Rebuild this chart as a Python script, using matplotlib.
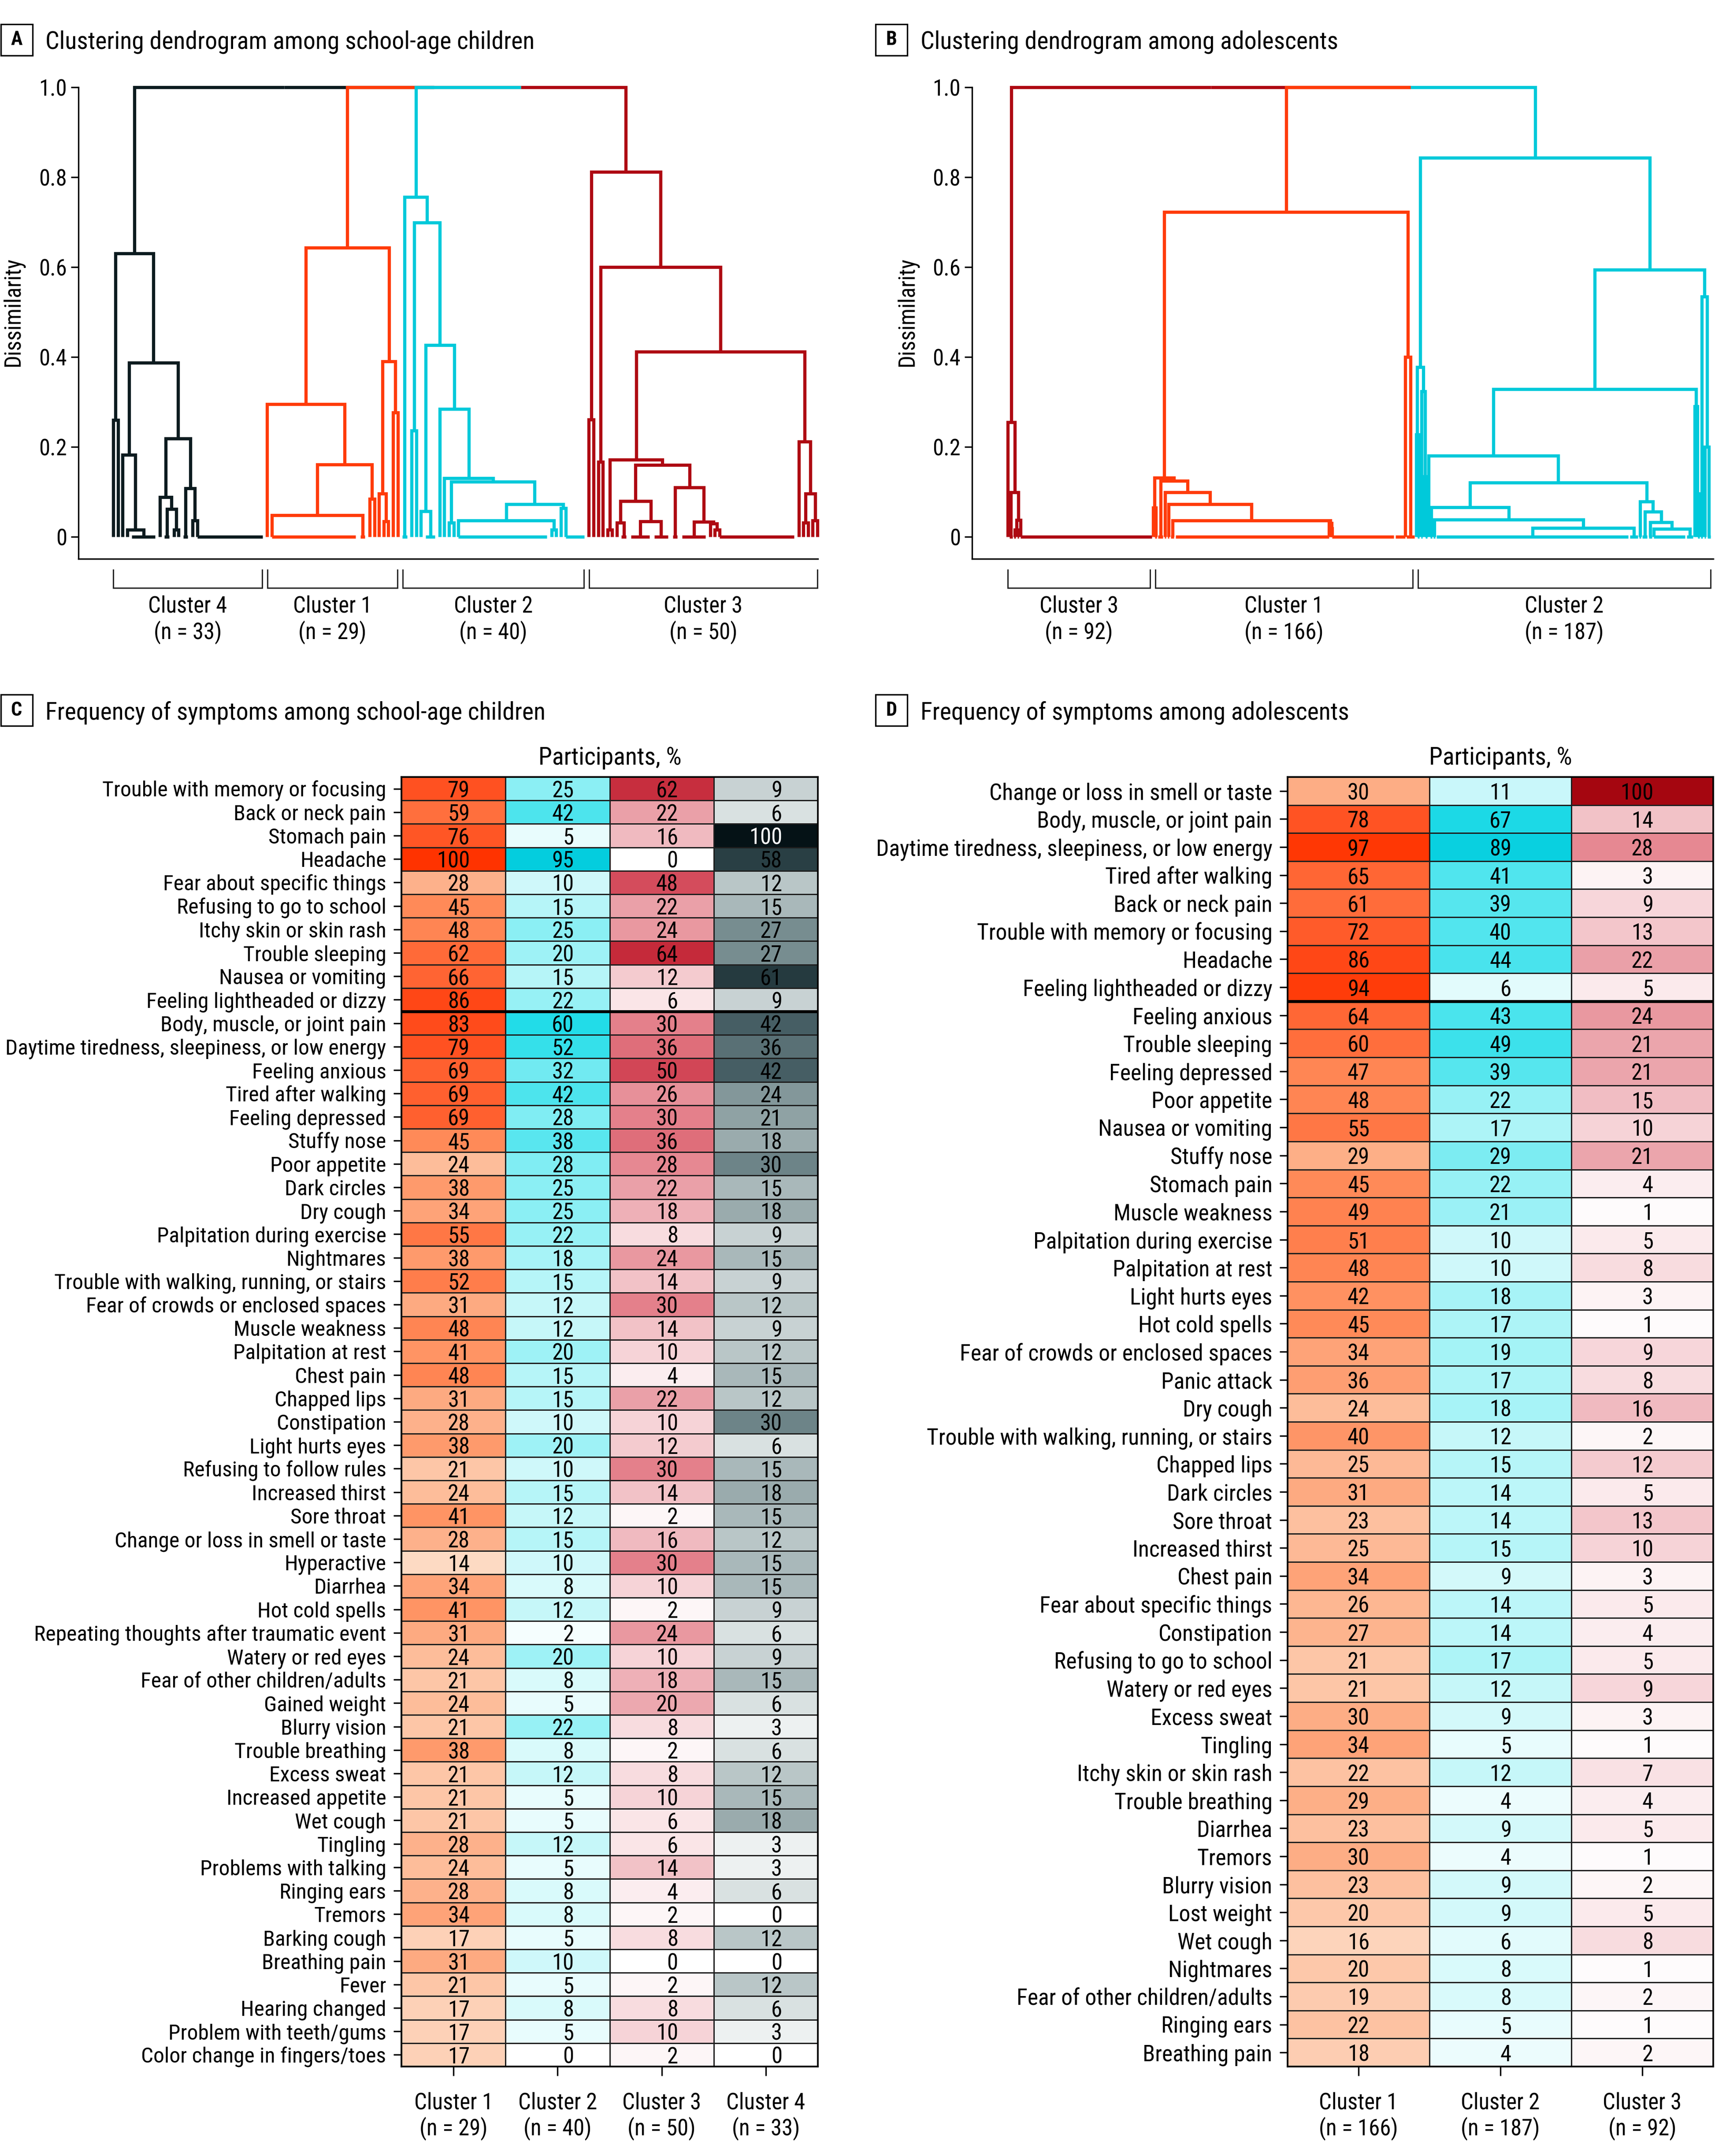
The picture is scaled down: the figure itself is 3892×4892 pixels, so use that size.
import numpy as np
import matplotlib
matplotlib.use("Agg")
import matplotlib.pyplot as plt
from matplotlib import font_manager as fm
from matplotlib.colors import LinearSegmentedColormap, Normalize, to_rgb
from matplotlib.collections import LineCollection
from matplotlib.patches import Rectangle
import matplotlib.transforms as mtransforms

# ----------------------------------------------------------------- data
c_symptoms = [
    "Trouble with memory or focusing", "Back or neck pain", "Stomach pain", "Headache",
    "Fear about specific things", "Refusing to go to school", "Itchy skin or skin rash",
    "Trouble sleeping", "Nausea or vomiting", "Feeling lightheaded or dizzy",
    "Body, muscle, or joint pain", "Daytime tiredness, sleepiness, or low energy",
    "Feeling anxious", "Tired after walking", "Feeling depressed", "Stuffy nose",
    "Poor appetite", "Dark circles", "Dry cough", "Palpitation during exercise",
    "Nightmares", "Trouble with walking, running, or stairs",
    "Fear of crowds or enclosed spaces", "Muscle weakness", "Palpitation at rest",
    "Chest pain", "Chapped lips", "Constipation", "Light hurts eyes",
    "Refusing to follow rules", "Increased thirst", "Sore throat",
    "Change or loss in smell or taste", "Hyperactive", "Diarrhea", "Hot cold spells",
    "Repeating thoughts after traumatic event", "Watery or red eyes",
    "Fear of other children/adults", "Gained weight", "Blurry vision",
    "Trouble breathing", "Excess sweat", "Increased appetite", "Wet cough", "Tingling",
    "Problems with talking", "Ringing ears", "Tremors", "Barking cough",
    "Breathing pain", "Fever", "Hearing changed", "Problem with teeth/gums",
    "Color change in fingers/toes"]
c_cluster1 = [79, 59, 76, 100, 28, 45, 48, 62, 66, 86, 83, 79, 69, 69, 69, 45, 24, 38, 34, 55,
              38, 52, 31, 48, 41, 48, 31, 28, 38, 21, 24, 41, 28, 14, 34, 41, 31, 24, 21, 24,
              21, 38, 21, 21, 21, 28, 24, 28, 34, 17, 31, 21, 17, 17, 17]
c_cluster2 = [25, 42, 5, 95, 10, 15, 25, 20, 15, 22, 60, 52, 32, 42, 28, 38, 28, 25, 25, 22,
              18, 15, 12, 12, 20, 15, 15, 10, 20, 10, 15, 12, 15, 10, 8, 12, 2, 20, 8, 5,
              22, 8, 12, 5, 5, 12, 5, 8, 8, 5, 10, 5, 8, 5, 0]
c_cluster3 = [62, 22, 16, 0, 48, 22, 24, 64, 12, 6, 30, 36, 50, 26, 30, 36, 28, 22, 18, 8,
              24, 14, 30, 14, 10, 4, 22, 10, 12, 30, 14, 2, 16, 30, 10, 2, 24, 10, 18, 20,
              8, 2, 8, 10, 6, 6, 14, 4, 2, 8, 0, 2, 8, 10, 2]
c_cluster4 = [9, 6, 100, 58, 12, 15, 27, 27, 61, 9, 42, 36, 42, 24, 21, 18, 30, 15, 18, 9,
              15, 9, 12, 9, 12, 15, 12, 30, 6, 15, 18, 15, 12, 15, 15, 9, 6, 9, 15, 6,
              3, 6, 12, 15, 18, 3, 3, 6, 0, 12, 0, 12, 6, 3, 0]
c_col_labels = ["Cluster 1", "Cluster 2", "Cluster 3", "Cluster 4"]
c_col_sizes = [29, 40, 50, 33]
c_split_after = 10

d_symptoms = [
    "Change or loss in smell or taste", "Body, muscle, or joint pain",
    "Daytime tiredness, sleepiness, or low energy", "Tired after walking",
    "Back or neck pain", "Trouble with memory or focusing", "Headache",
    "Feeling lightheaded or dizzy", "Feeling anxious", "Trouble sleeping",
    "Feeling depressed", "Poor appetite", "Nausea or vomiting", "Stuffy nose",
    "Stomach pain", "Muscle weakness", "Palpitation during exercise",
    "Palpitation at rest", "Light hurts eyes", "Hot cold spells",
    "Fear of crowds or enclosed spaces", "Panic attack", "Dry cough",
    "Trouble with walking, running, or stairs", "Chapped lips", "Dark circles",
    "Sore throat", "Increased thirst", "Chest pain", "Fear about specific things",
    "Constipation", "Refusing to go to school", "Watery or red eyes", "Excess sweat",
    "Tingling", "Itchy skin or skin rash", "Trouble breathing", "Diarrhea", "Tremors",
    "Blurry vision", "Lost weight", "Wet cough", "Nightmares",
    "Fear of other children/adults", "Ringing ears", "Breathing pain"]
d_cluster1 = [30, 78, 97, 65, 61, 72, 86, 94, 64, 60, 47, 48, 55, 29, 45, 49, 51, 48, 42, 45,
              34, 36, 24, 40, 25, 31, 23, 25, 34, 26, 27, 21, 21, 30, 34, 22, 29, 23, 30, 23,
              20, 16, 20, 19, 22, 18]
d_cluster2 = [11, 67, 89, 41, 39, 40, 44, 6, 43, 49, 39, 22, 17, 29, 22, 21, 10, 10, 18, 17,
              19, 17, 18, 12, 15, 14, 14, 15, 9, 14, 14, 17, 12, 9, 5, 12, 4, 9, 4, 9,
              9, 6, 8, 8, 5, 4]
d_cluster3 = [100, 14, 28, 3, 9, 13, 22, 5, 24, 21, 21, 15, 10, 21, 4, 1, 5, 8, 3, 1,
              9, 8, 16, 2, 12, 5, 13, 10, 3, 5, 4, 5, 9, 3, 1, 7, 4, 5, 1, 2,
              5, 8, 1, 2, 1, 2]
d_col_labels = ["Cluster 1", "Cluster 2", "Cluster 3"]
d_col_sizes = [166, 187, 92]
d_split_after = 8

# Dendrogram trees: (height, left, right); an int n = n participants joined at 0
# (joined at their centre); ("L", n) / ("R", n) = n participants joined at 0 onto
# the left-most / right-most participant.
a_tree_cluster4 = (0.63, (0.26, 1, 1),
                   (0.387, (0.182, 1, (0.016, 1, 6)),
                    (0.219, (0.088, 1, (0.062, 2, (0.016, 1, 1))),
                     (0.108, 2, (0.036, 1, ("L", 15))))))
a_tree_cluster1 = (0.643, (0.295, 1, (0.161, (0.048, ("L", 19), 2), (0.084, 1, 1))),
                   (0.39, (0.096, 1, (0.034, 1, 1)), (0.276, 1, 1)))
a_tree_cluster2 = (0.756, 2, (0.699, (0.236, 1, 1),
                   (0.426, (0.057, 1, 3),
                    (0.284, 1, (0.13, 1, (0.123, (0.031, 1, 1),
                     (0.073, (0.036, ("L", 20), (0.016, 1, 1)), (0.064, 1, ("L", 5)))))))))
a_tree_cluster3 = (0.812, (0.261, 1, 1),
                   (0.6, (0.167, 1, 1),
                    (0.412, (0.172, (0.016, 1, 1),
                             (0.16, (0.079, (0.031, 1, 2), (0.034, 5, 4)),
                              (0.11, 2, (0.033, 6, (0.029, 1, (0.016, 1, ("L", 17))))))),
                     (0.212, 1, (0.096, (0.031, 1, 1), (0.036, 1, 1))))))
a_top = (1.0, 0, (1.0, 1, (1.0, 2, 3)))
a_cluster_names = ["Cluster 4", "Cluster 1", "Cluster 2", "Cluster 3"]
a_cluster_sizes = [33, 29, 40, 50]

b_tree_cluster3 = (0.255, 1, (0.099, 3, (0.037, (0.016, 2, 2), ("L", 84))))
b_tree_cluster1 = (0.723, (0.131, (0.065, 1, 2),
                           (0.125, 4, (0.099, 2, (0.073, 2, (0.036, 3,
                            (0.03, ("R", 98), (0.019, 1, ("L", 40)))))))),
                   (0.4, ("R", 7), 6))
b_tree_cluster2 = (0.843, (0.377, (0.227, 1, 2), (0.324, 2, (0.134, 1, 2))),
                   (0.594, (0.328, (0.18, 1, (0.121,
                                   (0.066, 2, (0.038, 2, (0.02, 122, 6))),
                                   (0.078, 2, (0.056, 4, (0.032, 3, (0.018, ("L", 21), 5)))))),
                            (0.29, 1, (0.096, 1, 2))),
                    (0.534, 2, (0.2, 2, 3))))
b_top = (1.0, 0, (1.0, 1, 2))
b_cluster_names = ["Cluster 3", "Cluster 1", "Cluster 2"]
b_cluster_sizes = [92, 166, 187]

# ----------------------------------------------------------------- style
ORANGE = "#ff3b0a"
CYAN = "#00c9da"
RED = "#ae0912"
SLATE = "#0c1b1f"

cm_orange = LinearSegmentedColormap.from_list("o", [(0, "#ffffff"), (0.14, "#fdd9c2"), (0.28, "#fdb18a"),
                                                   (0.45, "#ff8a58"), (0.62, "#ff6a38"), (0.8, "#ff5020"),
                                                   (1.0, "#ff3300")])
cm_cyan = LinearSegmentedColormap.from_list("c", [(0, "#ffffff"), (0.1, "#cef8fa"), (0.2, "#9ef2f6"),
                                                 (0.4, "#52e5ee"), (0.6, "#22dce8"), (1.0, "#00cbdd")])
cm_red = LinearSegmentedColormap.from_list("r", [(0, "#ffffff"), (0.1, "#f6d2d6"), (0.2, "#eca8af"),
                                                (0.3, "#e47f8a"), (0.5, "#d24656"), (0.64, "#c52a3a"),
                                                (1.0, "#a50610")])
cm_slate = LinearSegmentedColormap.from_list("s", [(0, "#ffffff"), (0.06, "#d8e0e0"), (0.12, "#b8c5c6"),
                                                  (0.18, "#9aabad"), (0.24, "#83979a"), (0.3, "#6c8387"),
                                                  (0.42, "#465e64"), (0.6, "#263b40"), (1.0, "#051216")])

# font choice: a narrow sans face like the original
avail = {f.name for f in fm.fontManager.ttflist}
FONT, STRETCH = None, "normal"
for cand in ["Liberation Sans Narrow", "Roboto Condensed", "Open Sans Condensed",
             "Noto Sans Condensed", "DejaVu Sans Condensed"]:
    if cand in avail:
        FONT = cand
        break
if FONT is None:
    if any(f.name == "DejaVu Sans" and "condensed" in str(f.stretch) for f in fm.fontManager.ttflist):
        FONT, STRETCH = "DejaVu Sans", "condensed"
    else:
        FONT = "Liberation Sans"
plt.rcParams["font.family"] = [FONT, "DejaVu Sans"]
plt.rcParams["font.stretch"] = STRETCH

W, H = 3892, 4892
fig = plt.figure(figsize=(W / 300, H / 300), dpi=300)
fig.patch.set_facecolor("white")

# scale fonts so that the longest label has the width it has in the original
renderer = fig.canvas.get_renderer()
probe = fig.text(0, 0, "Daytime tiredness, sleepiness, or low energy", fontsize=13.2)
pw = probe.get_window_extent(renderer=renderer).width
probe.remove()
S = float(np.clip(885.0 / pw, 0.6, 1.15))
FS = 13.2 * S
FS_T = 14.5 * S
FS_LAB_C = 13.2 * float(np.clip(862.0 / pw, 0.6, 1.15))
FS_LAB_D = 13.2 * float(np.clip(898.0 / pw, 0.6, 1.15))
LW = 1.75


def rect(left, top, right, bottom):
    return [left / W, 1 - bottom / H, (right - left) / W, (bottom - top) / H]


def panel_letter(letter, x0, y0, title, tx, ty):
    fig.patches.append(Rectangle((x0 / W, 1 - (y0 + 71) / H), 72 / W, 71 / H, transform=fig.transFigure,
                                 fill=False, lw=0.8, edgecolor="black"))
    fig.text((x0 + 36) / W, 1 - (y0 + 35.5) / H, letter, ha="center", va="center", fontsize=11.5 * S,
             fontweight="bold")
    fig.text(tx / W, 1 - ty / H, title, ha="left", va="baseline", fontsize=FS_T)


# ----------------------------------------------------------------- dendrograms
def walk(node, start, segs):
    if isinstance(node, int):
        n = node
        if n > 1:
            segs.append([(start, 0.0), (start + n - 1, 0.0)])
        return start + (n - 1) / 2.0, 0.0, n
    if node[0] in ("L", "R"):
        n = node[1]
        if n > 1:
            segs.append([(start, 0.0), (start + n - 1, 0.0)])
        return (start if node[0] == "L" else start + n - 1), 0.0, n
    h, left, right = node
    xl, hl, nl = walk(left, start, segs)
    xr, hr, nr = walk(right, start + nl, segs)
    segs.append([(xl, hl), (xl, h), (xr, h), (xr, hr)])
    return (xl + xr) / 2.0, h, nl + nr


def walk_top(node, start, trees, colors, top_segs, out):
    if isinstance(node, int):
        segs = []
        x, h, n = walk(trees[node], start, segs)
        out.append((node, start, n, segs))
        return x, h, n, colors[node]
    h, left, right = node
    xl, hl, nl, cl = walk_top(left, start, trees, colors, top_segs, out)
    xr, hr, nr, cr = walk_top(right, start + nl, trees, colors, top_segs, out)
    col_l = cl or cr or "black"
    col_r = cr or cl or "black"
    xm = (xl + xr) / 2.0
    top_segs.append(([(xl, hl), (xl, h), (xm, h)], col_l))
    top_segs.append(([(xm, h), (xr, h), (xr, hr)], col_r))
    return xm, h, nl + nr, None


def dendrogram(box, trees, top, colors, names, sizes, xlim, ylab_x):
    ax = fig.add_axes(rect(*box))
    top_segs, out = [], []
    walk_top(top, 0, trees, colors, top_segs, out)
    for seg, col in reversed(top_segs):
        lc = LineCollection([seg], colors=col, linewidths=LW, capstyle="butt", joinstyle="miter",
                            zorder=2)
        lc.set_clip_on(False)
        ax.add_collection(lc)
    for k, start, n, segs in out:
        lc = LineCollection(segs, colors=colors[k], linewidths=LW, capstyle="butt", joinstyle="miter",
                            zorder=3)
        lc.set_clip_on(False)
        ax.add_collection(lc)
    ax.set_xlim(*xlim)
    ax.set_ylim(-0.049, 1.0)
    for s in ["top", "right"]:
        ax.spines[s].set_visible(False)
    for s in ["left", "bottom"]:
        ax.spines[s].set_linewidth(0.8)
    ax.set_xticks([])
    ax.set_yticks([0, 0.2, 0.4, 0.6, 0.8, 1.0])
    ax.set_yticklabels(["0", "0.2", "0.4", "0.6", "0.8", "1.0"], fontsize=FS)
    ax.tick_params(axis="y", length=4, width=0.8, pad=2.3)
    trans = ax.get_xaxis_transform()
    # keep a visible gap (about 12 px) between neighbouring brackets
    px_per_unit = (box[2] - box[0]) / (xlim[1] - xlim[0])
    inset = max(0.0, (12.0 / px_per_unit - 1.0) / 2.0)
    order = sorted(out, key=lambda t: t[1])
    last = len(order) - 1
    for idx, (k, start, n, segs) in enumerate(order):
        a, b = start, start + n - 1
        if idx > 0:
            a += inset
        if idx < last:
            b -= inset
        ax.plot([a, a, b, b], [-0.0234, -0.0617, -0.0617, -0.0234], transform=trans, color="#222222",
                lw=0.7, clip_on=False, solid_joinstyle="miter")
        ax.text((a + b) / 2, -0.114, names[k], transform=trans, ha="center", va="baseline", fontsize=FS)
        ax.text((a + b) / 2, -0.170, "(n = %d)" % sizes[k], transform=trans, ha="center", va="baseline",
                fontsize=FS)
    fig.text(ylab_x / W, 1 - 708 / H, "Dissimilarity", rotation=90, ha="center", va="center", fontsize=FS)
    return ax


panel_letter("A", 2, 55, "Clustering dendrogram among school-age children", 103, 111)
panel_letter("B", 1987, 55, "Clustering dendrogram among adolescents", 2089, 111)
dendrogram((178, 198, 1856, 1268), [a_tree_cluster4, a_tree_cluster1, a_tree_cluster2, a_tree_cluster3],
           a_top, [SLATE, ORANGE, CYAN, RED], a_cluster_names, a_cluster_sizes, (-7.47, 151.1), 30)
dendrogram((2206, 198, 3888, 1268), [b_tree_cluster3, b_tree_cluster1, b_tree_cluster2],
           b_top, [RED, ORANGE, CYAN], b_cluster_names, b_cluster_sizes, (-22.55, 445.7), 2059)


# ----------------------------------------------------------------- heatmaps
def heatmap(box, symptoms, columns, cmaps, col_labels, col_sizes, split_after, text_off, head_x, fs_lab):
    ax = fig.add_axes(rect(*box))
    n = len(symptoms)
    norm = Normalize(0, 100)
    yedges = np.arange(n + 1)
    for j, (vals, cm) in enumerate(zip(columns, cmaps)):
        arr = np.array(vals, dtype=float).reshape(-1, 1)
        ax.pcolormesh([j, j + 1], yedges, arr, cmap=cm, norm=norm, edgecolors="#1e1e1e", linewidth=0.65)
        tr = mtransforms.offset_copy(ax.transData, fig=fig, x=text_off, y=0, units="points")
        for i, v in enumerate(vals):
            r, g, b = to_rgb(cm(norm(v)))
            lum = 0.2126 * r + 0.7152 * g + 0.0722 * b
            ax.text(j + 0.5, i + 0.5, str(v), transform=tr, ha="right", va="center_baseline",
                    fontsize=FS, color="white" if lum < 0.1 else "black")
    ax.set_xlim(0, len(columns))
    ax.set_ylim(n, 0)
    ax.axhline(split_after, color="black", lw=1.6, zorder=5)
    for s in ax.spines.values():
        s.set_linewidth(0.9)
        s.set_zorder(6)
    ax.set_yticks(np.arange(n) + 0.5)
    ax.set_yticklabels(symptoms, fontsize=fs_lab)
    ax.tick_params(axis="y", length=4.3, width=0.8, pad=4.0)
    ax.set_xticks(np.arange(len(columns)) + 0.5)
    ax.set_xticklabels([])
    ax.tick_params(axis="x", length=5, width=0.8)
    trans = ax.get_xaxis_transform()
    for j, (lab, sz) in enumerate(zip(col_labels, col_sizes)):
        ax.text(j + 0.5, -0.03315, lab, transform=trans, ha="center", va="baseline", fontsize=FS)
        ax.text(j + 0.5, -0.05332, "(n = %d)" % sz, transform=trans, ha="center", va="baseline", fontsize=FS)
    fig.text(head_x / W, 1 - 1735 / H, "Participants, %", ha="center", va="baseline", fontsize=FS_T)
    return ax


panel_letter("C", 2, 1576, "Frequency of symptoms among school-age children", 103, 1632)
panel_letter("D", 1987, 1576, "Frequency of symptoms among adolescents", 2089, 1632)
heatmap((911, 1763, 1856, 4689), c_symptoms, [c_cluster1, c_cluster2, c_cluster3, c_cluster4],
        [cm_orange, cm_cyan, cm_red, cm_slate], c_col_labels, c_col_sizes, c_split_after, 8.9, 1384, FS_LAB_C)
heatmap((2922, 1763, 3888, 4689), d_symptoms, [d_cluster1, d_cluster2, d_cluster3],
        [cm_orange, cm_cyan, cm_red], d_col_labels, d_col_sizes, d_split_after, 6.0, 3405, FS_LAB_D)

fig.savefig("out.png", dpi=300, facecolor="white")
